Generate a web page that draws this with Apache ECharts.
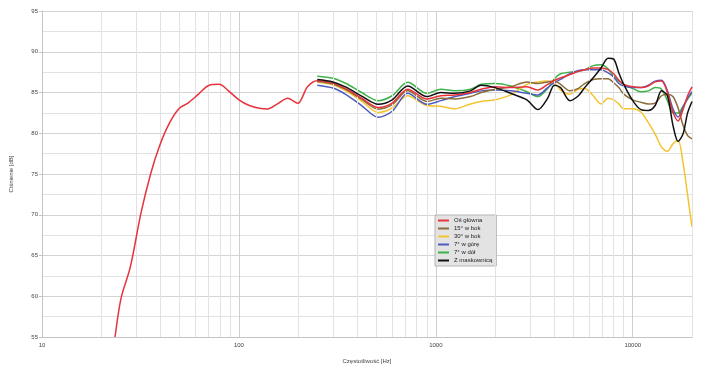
<!DOCTYPE html>
<html>
<head>
<meta charset="utf-8">
<script src="https://cdn.jsdelivr.net/npm/echarts@6/dist/echarts.min.js"></script>
<style>
html,body{margin:0;padding:0;background:#fff;}
#chart{width:705px;height:371px;}
</style>
</head>
<body>
<div id="chart"></div>
<script>
// ---- data ----
const seriesNames = ['Oś główna', '15° w bok', '30° w bok', '7° w górę', '7° w dół', 'Z maskownicą'];
const xTickLabels = ['10', '100', '1000', '10000'];
const minorGridFreqs = [20,30,40,50,60,70,80,90,200,300,400,500,600,700,800,900,2000,3000,4000,5000,6000,7000,8000,9000,20000];

// Main axis, low-frequency part (only measured for the main axis)
const freqLow = [23.5,25.2,28.1,31.8,35.7,39.4,44.3,49.8,54.9,61.7,70.6,79.4,87.6,100,113,127,140,157,177,199,223];
const mainLow = [55.0,59.75,63.6,70.2,75.1,78.35,81.2,83.06,83.67,84.7,85.9,86.0,85.3,84.1,83.4,83.06,82.98,83.6,84.3,83.67,85.7];

// Shared frequency grid for all curves above 250 Hz
const freqHigh = [250,300,350,420,510,600,720,900,1060,1250,1500,1700,2000,2400,2900,3300,3700,4000,4300,4800,5300,5700,6300,6900,7500,8000,8500,9000,10000,11000,12000,13000,14000,15000,16000,17000,18000,19000,20000];

const mainHigh   = [86.45,86.15,85.45,84.3,83.15,83.7,85.4,84.2,84.6,84.7,85.0,85.4,85.7,85.6,85.7,85.3,86.0,86.5,86.8,87.2,87.6,87.8,88.0,88.0,87.8,87.3,86.5,86.0,85.7,85.6,85.8,86.3,86.4,85.0,82.6,81.5,82.9,84.6,85.7];
const side15     = [86.35,86.05,85.35,84.15,82.95,83.5,85.2,83.9,84.3,84.2,84.5,85.0,85.4,85.7,86.3,86.1,86.3,86.4,86.0,85.2,85.5,86.1,86.6,86.7,86.7,86.2,85.6,84.8,84.1,83.8,83.6,83.7,84.6,84.8,84.5,83.1,81.0,79.7,79.3];
const side30     = [86.25,85.95,85.2,83.95,82.55,83.1,84.6,83.4,83.3,83.0,83.6,83.9,84.1,84.7,86.0,86.3,86.4,86.2,85.3,84.8,85.4,85.5,84.6,83.6,84.3,84.1,83.6,83.0,83.0,82.6,81.3,79.9,78.3,77.8,78.7,79.1,76.4,72.4,68.5];
const up7        = [85.9,85.55,84.75,83.4,81.95,82.7,84.9,83.55,84.0,84.5,84.9,85.2,85.3,85.2,84.9,84.7,85.6,86.2,86.6,87.3,87.7,87.8,87.8,87.8,87.4,86.9,86.1,85.8,85.6,85.6,85.9,86.4,86.5,85.2,83.0,82.0,83.2,84.3,85.1];
const down7      = [87.0,86.75,86.1,85.0,84.0,84.6,86.25,84.9,85.4,85.2,85.4,86.0,86.1,85.8,85.1,84.5,85.5,86.7,87.3,87.5,87.6,87.8,88.3,88.4,87.9,87.0,86.4,86.0,85.5,85.1,85.2,85.6,85.4,84.0,82.5,82.5,83.3,84.2,84.9];
const withGrille = [86.6,86.3,85.65,84.55,83.55,84.1,85.8,84.5,85.0,84.9,85.2,85.9,85.6,84.9,84.1,82.9,84.3,85.9,85.6,84.0,84.6,85.6,86.8,88.0,89.2,89.1,87.4,86.0,84.0,82.9,82.8,83.4,85.2,84.6,81.0,79.0,79.9,82.5,83.9];

const colors = {
  main: '#e8323c', s15: '#8a6d3b', s30: '#f4c430', up: '#4f5bbd', down: '#3fb24a', grille: '#111111'
};

// ---- build ----
const zip = (xs, ys) => xs.map((x, i) => [x, ys[i]]);
const mainData = zip(freqLow, mainLow).concat(zip(freqHigh, mainHigh));

function lineSeries(name, data, color, z) {
  return {
    name: name, type: 'line', data: data, showSymbol: false, symbol: 'none',
    smooth: 0.3, z: z, animation: false,
    lineStyle: { color: color, width: 1.5 }, itemStyle: { color: color }
  };
}

const chart = echarts.init(document.getElementById('chart'), null, { renderer: 'canvas' });
const font = 'Liberation Sans, Arial, sans-serif';

chart.setOption({
  backgroundColor: '#ffffff',
  animation: false,
  textStyle: { fontFamily: font },
  grid: { left: 41, right: 13, top: 11, bottom: 34 },
  legend: {
    data: seriesNames,
    orient: 'vertical', left: 435, top: 215,
    icon: 'rect',
    backgroundColor: '#e3e3e3', borderColor: '#b5b5b5', borderWidth: 1,
    padding: [2, 4, 2, 3], itemGap: 1, itemWidth: 11, itemHeight: 2,
    textStyle: { fontSize: 6, color: '#222', fontFamily: font, lineHeight: 7 }
  },
  xAxis: {
    type: 'log', logBase: 10, min: 10, max: 20000,
    name: 'Częstotliwość [Hz]', nameLocation: 'middle', nameGap: 21,
    nameTextStyle: { fontSize: 6, color: '#444' },
    axisLine: { show: true, lineStyle: { color: '#c4c4c4' } },
    axisTick: { show: false },
    axisLabel: {
      fontSize: 6, color: '#444', margin: 5,
      formatter: function (v) { const r = String(Math.round(v)); return xTickLabels.indexOf(r) >= 0 ? r : ''; }
    },
    splitLine: { show: true, lineStyle: { color: '#cfcfcf', width: 1 } }
  },
  yAxis: {
    type: 'value', min: 55, max: 95, interval: 5,
    name: 'Ciśnienie [dB]', nameLocation: 'middle', nameGap: 28, nameRotate: 90,
    nameTextStyle: { fontSize: 6, color: '#444' },
    axisLine: { show: true, lineStyle: { color: '#c4c4c4' } },
    axisTick: { show: true, length: 3, lineStyle: { color: '#c4c4c4' } },
    axisLabel: { fontSize: 6, color: '#444', margin: 4 },
    splitLine: { show: true, lineStyle: { color: '#d4d4d4', width: 1 } },
    minorTick: { show: false, splitNumber: 2 },
    minorSplitLine: { show: true, lineStyle: { color: '#e2e2e2', width: 1 } }
  },
  series: [
    {
      name: 'grid', type: 'line', data: [], z: 1, silent: true, animation: false,
      markLine: {
        silent: true, animation: false, symbol: ['none', 'none'],
        label: { show: false },
        lineStyle: { color: '#e2e2e2', type: 'solid', width: 1 },
        emphasis: { disabled: true },
        data: minorGridFreqs.map(v => ({ xAxis: v }))
      }
    },
    lineSeries(seriesNames[4], zip(freqHigh, down7), colors.down, 3),
    lineSeries(seriesNames[2], zip(freqHigh, side30), colors.s30, 3),
    lineSeries(seriesNames[3], zip(freqHigh, up7), colors.up, 4),
    lineSeries(seriesNames[1], zip(freqHigh, side15), colors.s15, 4),
    lineSeries(seriesNames[0], mainData, colors.main, 5),
    lineSeries(seriesNames[5], zip(freqHigh, withGrille), colors.grille, 6)
  ]
});
</script>
</body>
</html>
